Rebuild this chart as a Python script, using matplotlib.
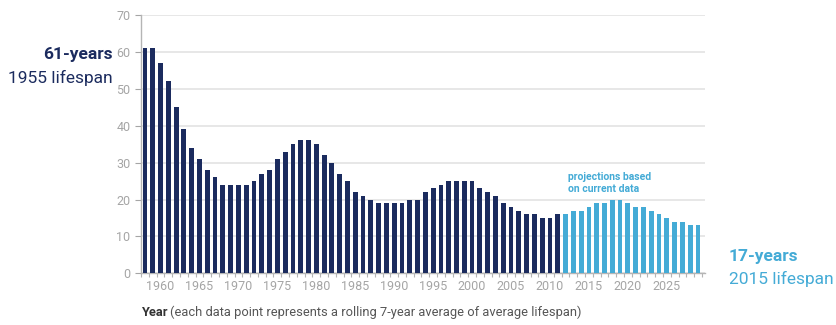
import matplotlib.pyplot as plt
import numpy as np

plt.rcParams['font.family'] = ['Roboto', 'DejaVu Sans']

# rolling 7-year average lifespan (years)
hist_years = list(range(1958, 2012))
hist_vals = [61, 61, 57, 52, 45, 39, 34, 31, 28, 26,
             24, 24, 24, 24, 25, 27, 28, 31, 33, 35,
             36, 36, 35, 32, 30, 27, 25, 22, 21, 20,
             19, 19, 19, 19, 20, 20, 22, 23, 24, 25,
             25, 25, 25, 23, 22, 21, 19, 18, 17, 16,
             16, 15, 15, 16]
proj_years = list(range(2012, 2030))
proj_vals = [16, 17, 17, 18, 19, 19, 20, 20, 19, 18,
             18, 17, 16, 15, 14, 14, 13, 13]

DARK = '#1b2b5e'
LIGHT = '#44abd6'
GRID = '#e3e3e3'
TICK = '#a5a5a5'

fig = plt.figure(figsize=(8.37, 3.25), dpi=100)
ax = fig.add_axes([0.1685, 0.159, 0.6735, 0.795])

ax.bar(hist_years, hist_vals, width=0.62, color=DARK, zorder=3)
ax.bar(proj_years, proj_vals, width=0.62, color=LIGHT, zorder=3)

ax.set_xlim(1957.56, 2029.87)
ax.set_ylim(0, 70)
ax.set_yticks(np.arange(0, 71, 10))
ax.set_xticks(np.arange(1960, 2030, 5))
ax.set_xticks(np.arange(1957.5, 2030, 1), minor=True)
ax.yaxis.grid(True, color=GRID, linewidth=1.2, zorder=0)

for side in ['top', 'right']:
    ax.spines[side].set_visible(False)
for side in ['left', 'bottom']:
    ax.spines[side].set_color('#b5b5b5')
    ax.spines[side].set_linewidth(1)

ax.tick_params(axis='y', colors=TICK, labelsize=9, length=4, width=0.8)
ax.tick_params(axis='x', which='major', colors=TICK, labelsize=9, length=0, pad=5)
ax.tick_params(axis='x', which='minor', colors='#b5b5b5', length=3, width=0.8)

# x axis caption: bold "Year" followed by the note
yr = fig.text(141 / 837, 1 - 312 / 325, 'Year', fontsize=9.3, fontweight='bold',
              color='#333333', va='center', ha='left')
fig.canvas.draw()
bb = yr.get_window_extent()
fig.text((bb.x1 + 3) / 837, 1 - 312 / 325,
         '(each data point represents a rolling 7-year average of average lifespan)',
         fontsize=9.3, color='#555555', va='center', ha='left')

fig.text(113 / 837, 1 - 55 / 325, '61-years', fontsize=12.5, fontweight='bold',
         color=DARK, ha='right', va='center')
fig.text(113 / 837, 1 - 78 / 325, '1955 lifespan', fontsize=12.5,
         color=DARK, ha='right', va='center')

fig.text(729 / 837, 1 - 256 / 325, '17-years', fontsize=12.5, fontweight='bold',
         color=LIGHT, ha='left', va='center')
fig.text(729 / 837, 1 - 279 / 325, '2015 lifespan', fontsize=12.5,
         color=LIGHT, ha='left', va='center')

ax.text(2012.3, 21.5, 'projections based\non current data', fontsize=7.5,
        fontweight='bold', color=LIGHT, ha='left', va='bottom', linespacing=1.2)

fig.savefig('out.png', dpi=100)
